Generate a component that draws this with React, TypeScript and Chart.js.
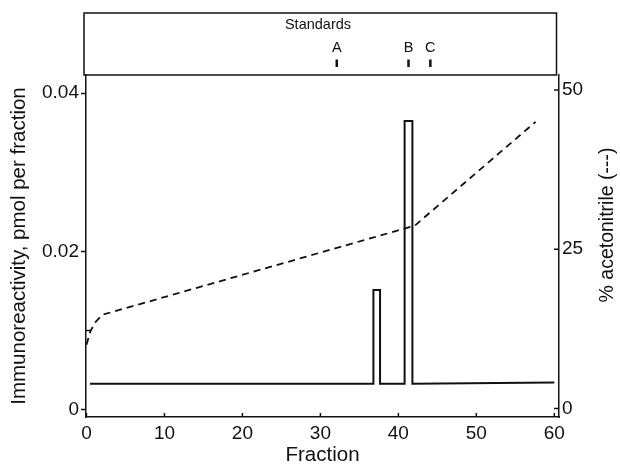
import React, { useEffect, useRef } from "react";
import { Chart, registerables } from "chart.js";

Chart.register(...registerables);

// ---- data ----
const solidFraction = [0.45, 36.8, 36.8, 37.65, 37.65, 40.8, 40.8, 41.8, 41.8, 60];
const immunoreactivity = [0.00325, 0.00325, 0.0151, 0.0151, 0.00325, 0.00325, 0.0365, 0.0365, 0.00325, 0.0034];
const gradientFraction = [0, 0.5, 1.1, 2.0, 42.1, 57.6];
const acetonitrile = [10.0, 12.1, 13.5, 14.7, 28.7, 45.0];
const xTicks = [0, 10, 20, 30, 40, 50, 60];
const leftTicks = [0, 0.02, 0.04];
const leftTickLabels = ["0", "0.02", "0.04"];
const leftMinorTicks = [0.01];
const rightTicks = [0, 25, 50];
const rightTickLabels = ["0", "25", "50"];
const standardLabels = ["A", "B", "C"];
const standardFractions = [32.1, 41.3, 44.1];

const FONT = "'Liberation Sans', Arial, Helvetica, sans-serif";
const INK = "#111";

const overlay = {
  id: "overlay",
  afterDraw(chart: any) {
    const ctx = chart.ctx;
    const { left, right, top, bottom } = chart.chartArea;
    const x = chart.scales.x;
    const y = chart.scales.y;
    const y2 = chart.scales.y2;
    ctx.save();
    ctx.strokeStyle = INK;
    ctx.fillStyle = INK;
    ctx.lineWidth = 1.5;
    // standards panel box
    ctx.strokeRect(left - 2, 13, right - 2.5 - (left - 2), top - 13);
    // inward ticks bottom axis
    ctx.beginPath();
    xTicks.forEach((v) => {
      const px = x.getPixelForValue(v);
      ctx.moveTo(px, bottom);
      ctx.lineTo(px, bottom - 4);
    });
    // inward ticks right axis
    rightTicks.forEach((v) => {
      const py = y2.getPixelForValue(v);
      ctx.moveTo(right, py);
      ctx.lineTo(right - 5, py);
    });
    // minor inward ticks left axis
    leftMinorTicks.forEach((v) => {
      const py = y.getPixelForValue(v);
      ctx.moveTo(left, py);
      ctx.lineTo(left + 5, py);
    });
    ctx.stroke();

    // Standards label
    ctx.font = `14.5px ${FONT}`;
    ctx.textAlign = "center";
    ctx.textBaseline = "alphabetic";
    ctx.fillText("Standards", 318, 28.5);
    ctx.font = `14.5px ${FONT}`;
    ctx.lineWidth = 2.5;
    standardLabels.forEach((lab, i) => {
      const px = x.getPixelForValue(standardFractions[i]);
      ctx.fillText(lab, px, 52);
      ctx.beginPath();
      ctx.moveTo(px, 59.5);
      ctx.lineTo(px, 67);
      ctx.stroke();
    });

    // right axis title
    ctx.save();
    ctx.translate(608, 225);
    ctx.rotate(-Math.PI / 2);
    ctx.font = `19.5px ${FONT}`;
    ctx.textAlign = "center";
    ctx.textBaseline = "middle";
    ctx.fillText("% acetonitrile (---)", 0, 0);
    ctx.restore();
    ctx.restore();
  },
};

export default function App() {
  const ref = useRef<HTMLCanvasElement | null>(null);
  useEffect(() => {
    if (!ref.current) return;
    const tickFont = { family: FONT, size: 19 };
    const titleFont = { family: FONT, size: 20.5, lineHeight: 1.1 };
    const chart = new Chart(ref.current, {
      type: "scatter",
      data: {
        datasets: [
          {
            data: solidFraction.map((f, i) => ({ x: f, y: immunoreactivity[i] })),
            showLine: true,
            borderColor: INK,
            backgroundColor: INK,
            borderWidth: 2,
            pointRadius: 0,
            tension: 0,
            yAxisID: "y",
          },
          {
            data: gradientFraction.map((f, i) => ({ x: f, y: acetonitrile[i] })),
            showLine: true,
            borderColor: INK,
            backgroundColor: INK,
            borderWidth: 1.8,
            borderDash: [7, 5],
            pointRadius: 0,
            tension: 0,
            yAxisID: "y2",
          },
        ],
      },
      options: {
        animation: false,
        responsive: false,
        maintainAspectRatio: false,
        layout: { padding: { top: 75, left: 0, right: 0, bottom: 0 } },
        plugins: { legend: { display: false }, tooltip: { enabled: false } },
        scales: {
          x: {
            type: "linear",
            position: "bottom",
            min: -0.06,
            max: 60.6,
            afterBuildTicks: (s: any) => {
              s.ticks = xTicks.map((v) => ({ value: v }));
            },
            afterFit: (s: any) => {
              s.height = 50;
            },
            ticks: {
              font: tickFont,
              color: INK,
              padding: 5,
              maxRotation: 0,
              autoSkip: false,
              callback: (v: any) => String(v),
            },
            grid: { drawOnChartArea: false, drawTicks: false },
            border: { color: INK, width: 1.5 },
            title: { display: true, text: "Fraction", font: titleFont, color: INK, padding: 0 },
          },
          y: {
            type: "linear",
            position: "left",
            min: -0.00095,
            max: 0.04231,
            afterBuildTicks: (s: any) => {
              s.ticks = leftTicks.map((v) => ({ value: v }));
            },
            afterFit: (s: any) => {
              s.width = 86;
            },
            ticks: {
              font: tickFont,
              color: INK,
              padding: 2,
              callback: (v: any) => leftTickLabels[leftTicks.indexOf(v)] ?? "",
            },
            grid: { drawOnChartArea: false, drawTicks: true, tickLength: 5, tickWidth: 1.5, tickColor: INK },
            border: { color: INK, width: 1.5 },
            title: {
              display: true,
              text: "Immunoreactivity, pmol per fraction",
              font: titleFont,
              color: INK,
              padding: { top: 8, bottom: 0 },
            },
          },
          y2: {
            type: "linear",
            position: "right",
            min: -1.33,
            max: 52.35,
            afterBuildTicks: (s: any) => {
              s.ticks = rightTicks.map((v) => ({ value: v }));
            },
            afterFit: (s: any) => {
              s.width = 61;
            },
            ticks: {
              font: tickFont,
              color: INK,
              padding: 3,
              callback: (v: any) => rightTickLabels[rightTicks.indexOf(v)] ?? "",
            },
            grid: { drawOnChartArea: false, drawTicks: false },
            border: { color: INK, width: 1.5 },
          },
        },
      },
      plugins: [overlay],
    } as any);
    return () => chart.destroy();
  }, []);
  return (
    <div style={{ position: "absolute", left: 0, top: 0, width: 620, height: 467, background: "#fff" }}>
      <canvas ref={ref} width={620} height={467} style={{ width: 620, height: 467, display: "block" }} />
    </div>
  );
}
